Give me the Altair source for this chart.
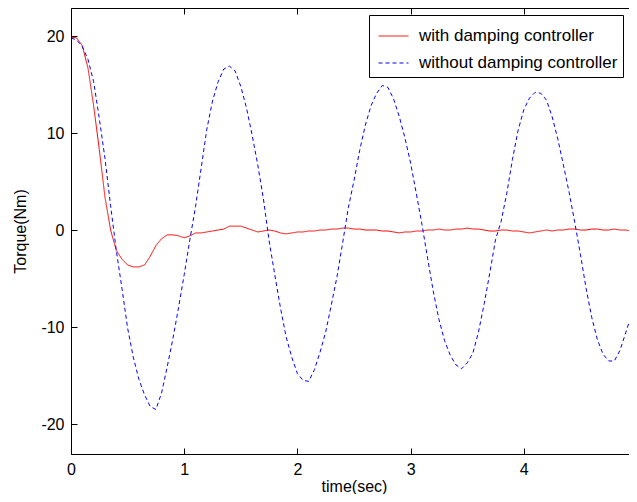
import altair as alt
import pandas as pd

# sample times (s)
time_s = [i / 20 for i in range(101)]

# torque with damping controller (Nm)
with_ctrl = [
    19.9, 19.8, 19.0, 16.7, 12.8, 8.3, 3.4, 0.0, -2.1, -3.0,
    -3.6, -3.8, -3.8, -3.6, -2.7, -1.6, -0.9, -0.5, -0.5, -0.6,
    -0.8, -0.6, -0.3, -0.3, -0.2, -0.1, 0.0, 0.1, 0.4, 0.4,
    0.4, 0.2, 0.0, -0.2, -0.1, 0.0, -0.1, -0.3, -0.4, -0.3,
    -0.2, -0.2, -0.1, -0.1, 0.0, 0.0, 0.1, 0.1, 0.2, 0.2,
    0.1, 0.1, 0.0, 0.0, 0.0, -0.1, -0.1, -0.2, -0.3, -0.2,
    -0.2, -0.1, -0.1, 0.0, 0.0, 0.1, 0.0, 0.0, 0.1, 0.1,
    0.2, 0.1, 0.1, 0.0, -0.1, -0.1, 0.0, 0.0, -0.1, -0.1,
    -0.2, -0.3, -0.2, -0.1, 0.0, -0.1, 0.0, 0.0, 0.1, 0.1,
    0.0, 0.0, 0.1, 0.1, 0.0, 0.0, 0.1, 0.0, 0.0, -0.1,
    -0.1,
]

# torque without damping controller (Nm)
without_ctrl = [
    19.8, 19.6, 18.9, 17.6, 15.3, 11.5, 7.4, 2.5, -2.1, -6.0,
    -10.1, -13.1, -15.4, -17.0, -18.2, -18.5, -16.8, -14.1, -11.2, -8.0,
    -4.6, -1.0, 2.4, 6.4, 10.4, 13.3, 15.3, 16.6, 16.9, 16.4,
    14.8, 12.6, 9.8, 6.7, 3.2, -1.1, -4.6, -8.0, -11.0, -13.1,
    -14.8, -15.5, -15.6, -14.4, -12.6, -10.5, -7.7, -4.8, -1.3, 2.3,
    5.1, 8.2, 10.8, 12.8, 14.1, 14.9, 14.7, 13.5, 11.7, 9.5,
    6.9, 3.8, 0.6, -2.9, -6.3, -9.2, -11.4, -12.9, -13.9, -14.3,
    -13.7, -12.7, -10.5, -7.6, -4.4, -1.0, 0.9, 3.8, 7.3, 10.3,
    12.4, 13.6, 14.2, 14.1, 13.4, 11.7, 9.4, 6.7, 3.9, 0.8,
    -2.5, -6.0, -9.0, -11.3, -12.8, -13.5, -13.5, -12.4, -10.6, -8.8,
    -6.9,
]

series_names = ["with damping controller", "without damping controller"]
series_colors = ["#ff0000", "#0000ff"]
series_dashes = [[1, 0], [4, 3]]
x_ticks = [0, 1, 2, 3, 4, 5]
y_ticks = [-20, -10, 0, 10, 20]

n = len(time_s)
df = pd.DataFrame({
    "time": time_s + time_s,
    "torque": with_ctrl + without_ctrl,
    "series": [series_names[0]] * n + [series_names[1]] * n,
})

FONT = "Liberation Sans"
xs = alt.Scale(domain=[0, 5], nice=False, zero=False)
ys = alt.Scale(domain=[-23.09, 22.89], nice=False, zero=False)


def tick_axis(orient, values):
    return alt.Axis(orient=orient, values=values, offset=-6, tickSize=6, ticks=True,
                    tickColor="black", tickWidth=1, domain=False, labels=False,
                    title="", grid=False)


x_main = alt.Axis(orient="bottom", values=x_ticks, ticks=False, tickSize=0, domain=True,
                  domainColor="black", domainWidth=1, labelFont=FONT, labelFontSize=16,
                  labelColor="black", labelPadding=7, labelFlush=False, grid=False,
                  labelExpr="toString(datum.value)",
                  title="time(sec)", titleFont=FONT, titleFontSize=16, titleFontWeight="normal",
                  titleColor="black", titleX=283, titleY=37, titleBaseline="alphabetic",
                  titleAlign="center", zindex=1)
y_main = alt.Axis(orient="left", values=y_ticks, ticks=False, tickSize=0, domain=True,
                  domainColor="black", domainWidth=1, labelFont=FONT, labelFontSize=16,
                  labelColor="black", labelPadding=7, labelFlush=False, grid=False,
                  labelExpr="toString(datum.value)",
                  title="Torque(Nm)", titleFont=FONT, titleFontSize=16, titleFontWeight="normal",
                  titleColor="black", titleX=-51, titleY=223, titleAngle=270,
                  titleBaseline="middle", titleAlign="center", zindex=1)
x_top_domain = alt.Axis(orient="top", values=x_ticks, ticks=False, tickSize=0, domain=True,
                        domainColor="black", domainWidth=1, labels=False, title="", grid=False,
                        zindex=1)

leg = alt.Legend(title=None, orient="none", legendX=298, legendY=7, fillColor="white",
                 strokeColor="black", padding=5.5, symbolType="stroke", symbolSize=900,
                 symbolStrokeWidth=1, symbolOffset=3.5, labelOffset=10, labelFont=FONT,
                 labelFontSize=17, labelColor="black", rowPadding=3, labelLimit=400)

lines = alt.Chart(df).mark_line(strokeWidth=1, clip=True).encode(
    x=alt.X("time:Q", scale=xs, axis=x_main),
    y=alt.Y("torque:Q", scale=ys, axis=y_main),
    color=alt.Color("series:N", scale=alt.Scale(domain=series_names, range=series_colors),
                    legend=leg),
    strokeDash=alt.StrokeDash("series:N",
                              scale=alt.Scale(domain=series_names, range=series_dashes),
                              legend=leg),
)

ghost = alt.Chart(df).mark_line(strokeOpacity=0)
layer2 = ghost.encode(x=alt.X("time:Q", scale=xs, axis=tick_axis("bottom", x_ticks)),
                      y=alt.Y("torque:Q", scale=ys, axis=tick_axis("left", y_ticks)))
layer3 = ghost.encode(x=alt.X("time:Q", scale=xs, axis=x_top_domain),
                      y=alt.Y("torque:Q", scale=ys, axis=tick_axis("right", y_ticks)))
layer4 = ghost.encode(x=alt.X("time:Q", scale=xs, axis=tick_axis("top", x_ticks)),
                      y=alt.Y("torque:Q", scale=ys, axis=None))

chart = alt.layer(lines, layer2, layer3, layer4).resolve_axis(
    x="independent", y="independent"
).properties(
    width=566, height=446,
    padding={"left": 63, "top": 0, "right": -8, "bottom": 40},
    autosize=alt.AutoSizeParams(type="none"),
    background="white",
).configure_view(stroke="transparent")

chart.save("out.html", embed_options={"renderer": "svg", "actions": False})
